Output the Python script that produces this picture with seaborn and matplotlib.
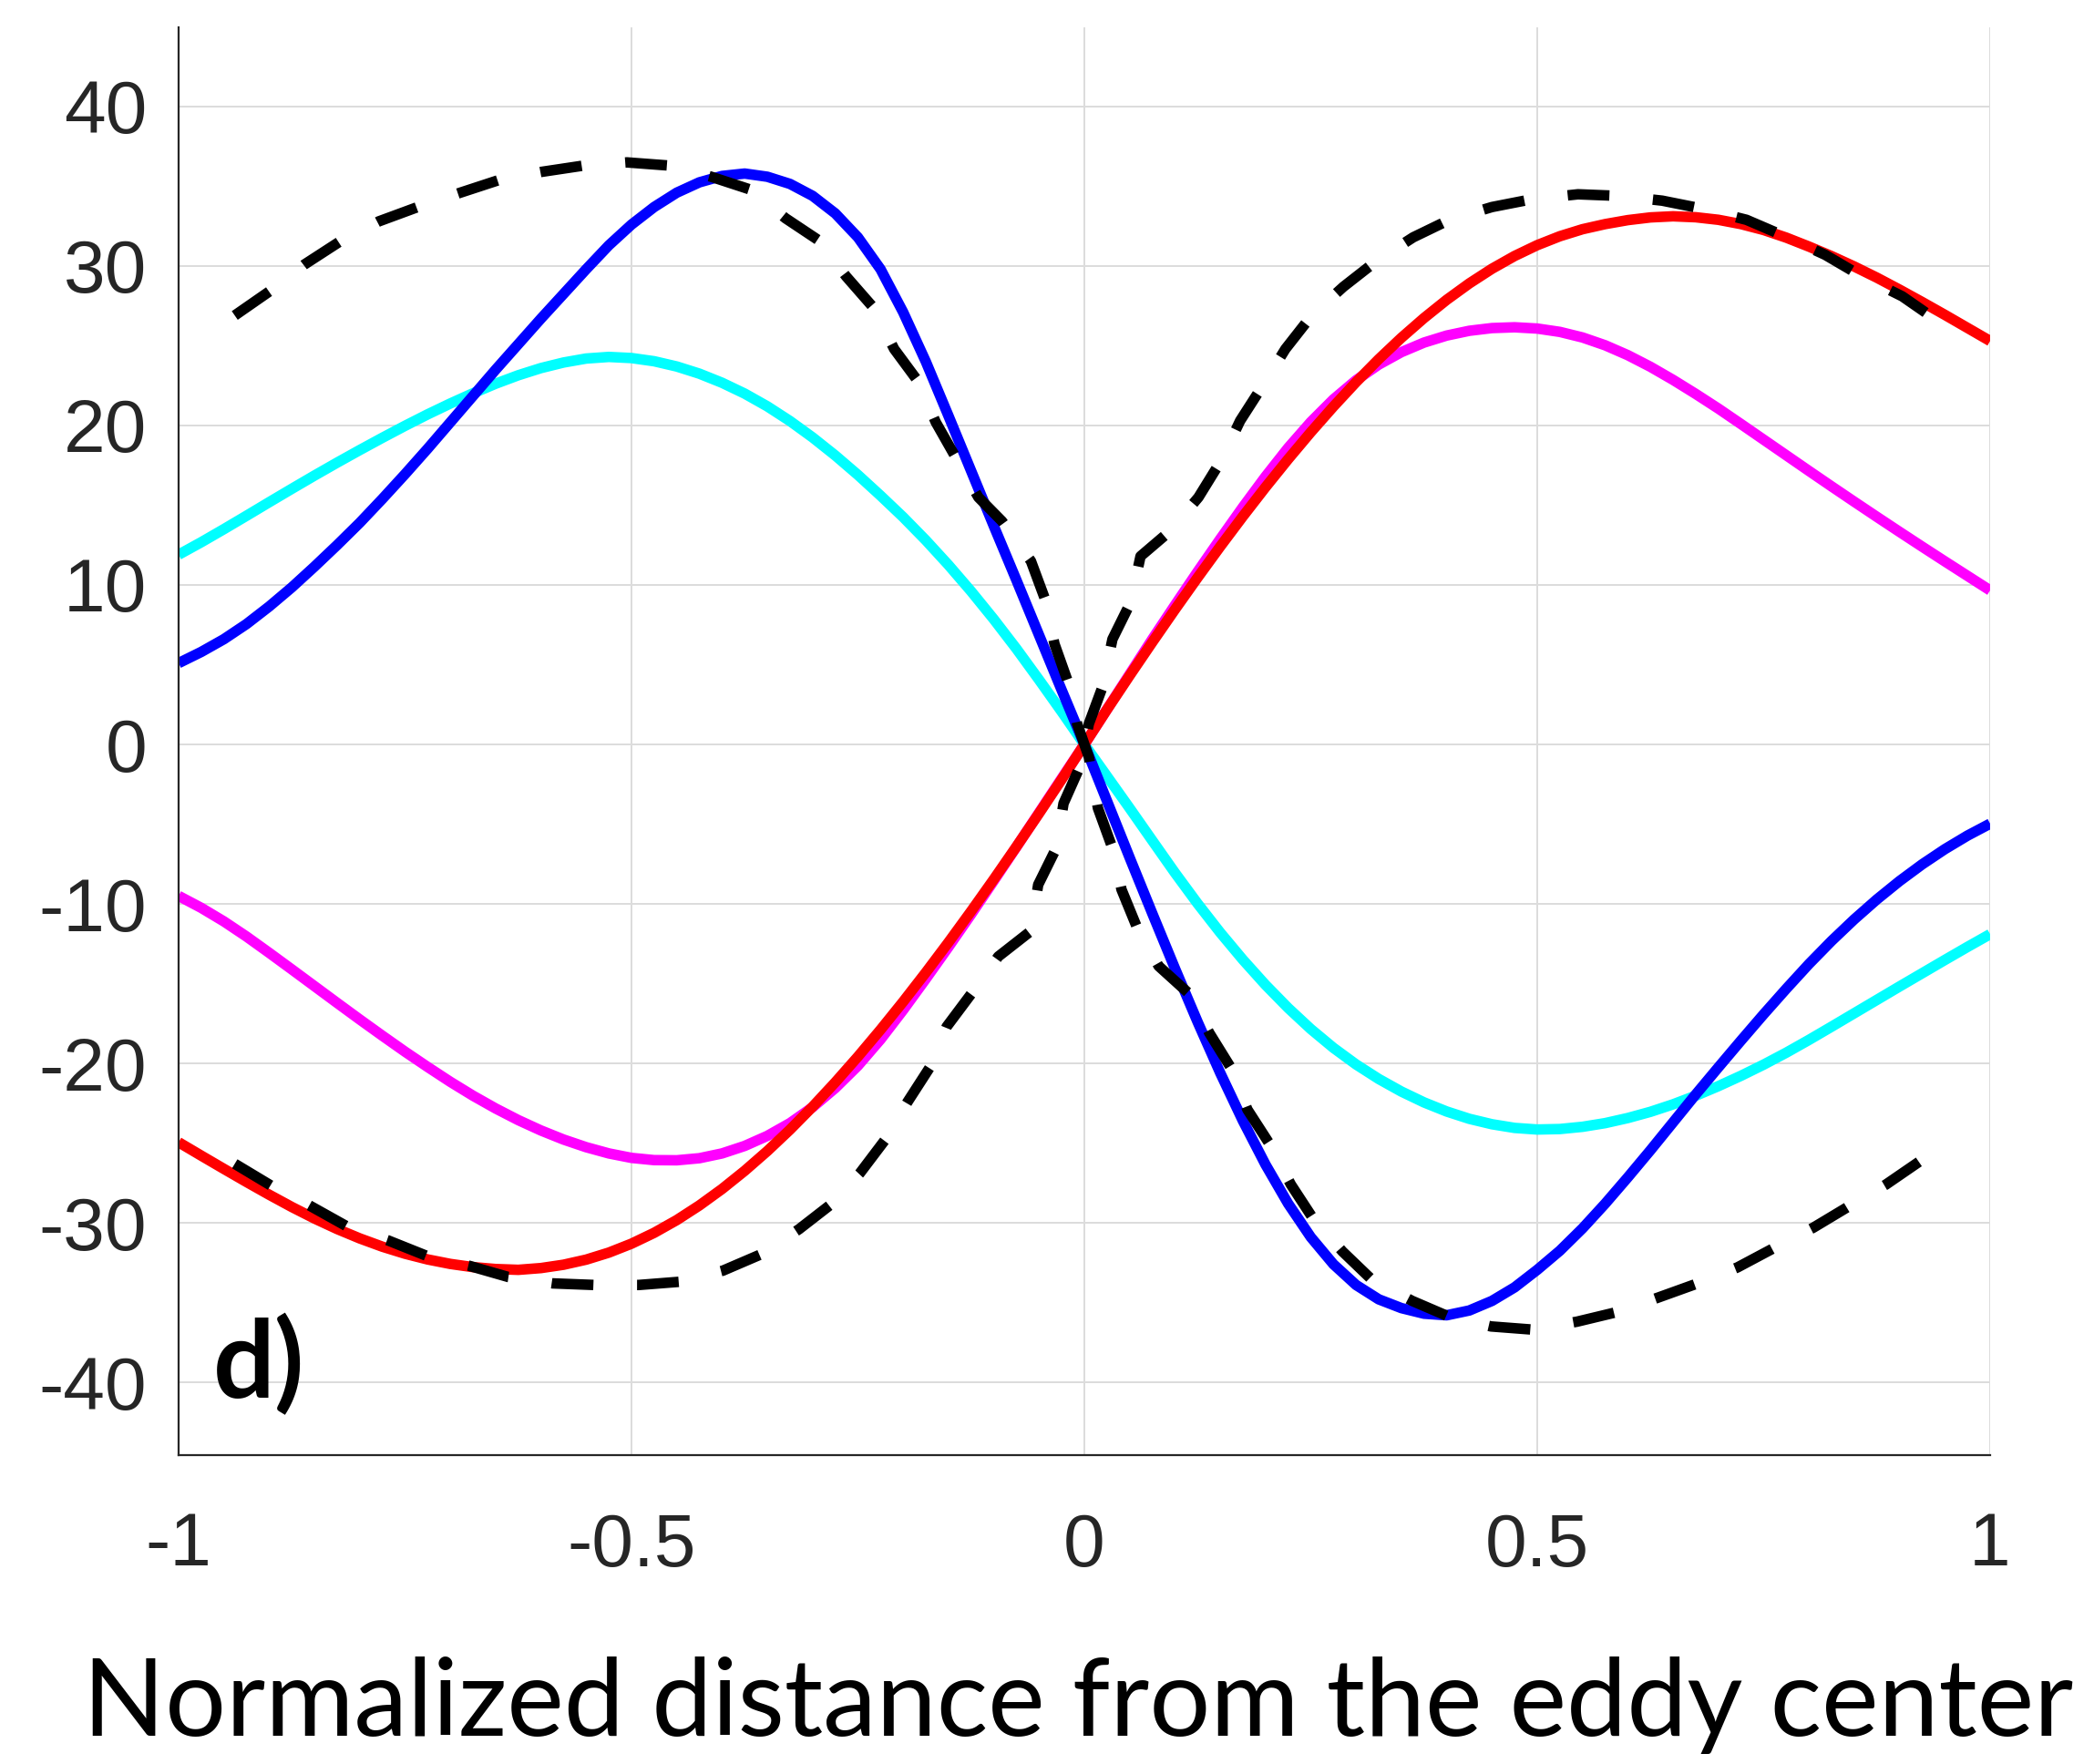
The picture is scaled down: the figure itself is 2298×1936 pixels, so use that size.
import matplotlib
matplotlib.use("Agg")
import matplotlib.pyplot as plt
import pandas as pd
import seaborn as sns

# ---- modelled profiles across the eddy (normalized distance from the centre) ----
x_grid = [-1.000, -0.975, -0.950, -0.925, -0.900, -0.875, -0.850, -0.825, -0.800, -0.775,
          -0.750, -0.725, -0.700, -0.675, -0.650, -0.625, -0.600, -0.575, -0.550, -0.525,
          -0.500, -0.475, -0.450, -0.425, -0.400, -0.375, -0.350, -0.325, -0.300, -0.275,
          -0.250, -0.225, -0.200, -0.175, -0.150, -0.125, -0.100, -0.075, -0.050, -0.025,
          0.000, 0.025, 0.050, 0.075, 0.100, 0.125, 0.150, 0.175, 0.200, 0.225,
          0.250, 0.275, 0.300, 0.325, 0.350, 0.375, 0.400, 0.425, 0.450, 0.475,
          0.500, 0.525, 0.550, 0.575, 0.600, 0.625, 0.650, 0.675, 0.700, 0.725,
          0.750, 0.775, 0.800, 0.825, 0.850, 0.875, 0.900, 0.925, 0.950, 0.975, 1.000]

cyan_vals = [11.9, 12.68, 13.5, 14.34, 15.19, 16.03, 16.86, 17.67, 18.46, 19.23,
             19.98, 20.7, 21.38, 22.02, 22.62, 23.15, 23.6, 23.95, 24.2, 24.3,
             24.23, 24.03, 23.7, 23.25, 22.68, 22.0, 21.2, 20.28, 19.25, 18.12,
             16.9, 15.6, 14.25, 12.8, 11.25, 9.6, 7.85, 6.0, 4.05, 2.05,
             0.0, -2.0, -4.0, -6.03, -8.05, -9.98, -11.8, -13.5, -15.08, -16.53,
             -17.85, -19.03, -20.07, -20.98, -21.77, -22.45, -23.02, -23.48, -23.82, -24.05,
             -24.15, -24.12, -23.98, -23.75, -23.43, -23.04, -22.57, -22.03, -21.43, -20.78,
             -20.08, -19.33, -18.53, -17.7, -16.86, -16.02, -15.18, -14.35, -13.52, -12.7, -11.9]

blue_vals = [5.1, 5.8, 6.6, 7.55, 8.65, 9.85, 11.15, 12.5, 13.9, 15.4,
             16.95, 18.55, 20.2, 21.85, 23.5, 25.1, 26.7, 28.25, 29.8, 31.3,
             32.6, 33.7, 34.6, 35.25, 35.65, 35.8, 35.6, 35.15, 34.4, 33.3,
             31.8, 29.8, 27.1, 24.0, 20.6, 17.15, 13.7, 10.3, 6.85, 3.4,
             0.0, -3.55, -7.1, -10.6, -14.05, -17.4, -20.6, -23.6, -26.35, -28.8,
             -30.9, -32.6, -33.9, -34.8, -35.35, -35.7, -35.8, -35.5, -34.9, -34.05,
             -32.95, -31.75, -30.35, -28.8, -27.15, -25.45, -23.7, -21.95, -20.25, -18.57,
             -16.92, -15.32, -13.77, -12.32, -10.97, -9.72, -8.57, -7.52, -6.57, -5.72, -4.97]

magenta_vals = [-9.5, -10.25, -11.1, -12.05, -13.07, -14.11, -15.16, -16.21, -17.25, -18.27,
                -19.27, -20.23, -21.16, -22.03, -22.83, -23.56, -24.21, -24.78, -25.26, -25.65,
                -25.93, -26.07, -26.08, -25.95, -25.65, -25.18, -24.55, -23.75, -22.75, -21.55,
                -20.15, -18.5, -16.65, -14.7, -12.7, -10.65, -8.55, -6.43, -4.28, -2.13,
                0.0, 2.2, 4.4, 6.6, 8.73, 10.83, 12.88, 14.88, 16.8, 18.6,
                20.22, 21.64, 22.84, 23.82, 24.6, 25.2, 25.64, 25.94, 26.11, 26.16,
                26.08, 25.87, 25.52, 25.03, 24.41, 23.68, 22.86, 21.98, 21.06, 20.09,
                19.11, 18.13, 17.15, 16.18, 15.22, 14.27, 13.33, 12.4, 11.48, 10.57, 9.66]

red_vals = [-24.95, -25.79, -26.62, -27.44, -28.24, -29.01, -29.73, -30.39, -30.98, -31.5,
            -31.94, -32.3, -32.58, -32.78, -32.9, -32.95, -32.84, -32.63, -32.31, -31.87,
            -31.31, -30.63, -29.83, -28.91, -27.88, -26.74, -25.5, -24.16, -22.72, -21.19,
            -19.58, -17.89, -16.13, -14.3, -12.41, -10.46, -8.46, -6.41, -4.32, -2.19,
            0.0, 2.19, 4.32, 6.41, 8.46, 10.46, 12.41, 14.3, 16.13, 17.89,
            19.58, 21.19, 22.72, 24.16, 25.5, 26.74, 27.88, 28.91, 29.83, 30.63,
            31.31, 31.87, 32.31, 32.63, 32.88, 33.05, 33.12, 33.06, 32.9, 32.63,
            32.26, 31.78, 31.22, 30.62, 29.97, 29.27, 28.52, 27.74, 26.94, 26.12, 25.3]

# observed profile 1 (positive on the left, negative on the right)
obs1_x = [-0.938, -0.900, -0.861, -0.823, -0.779, -0.736, -0.689, -0.646, -0.600, -0.553,
          -0.505, -0.458, -0.412, -0.369, -0.330, -0.293, -0.263, -0.233, -0.210, -0.184,
          -0.164, -0.141, -0.117, -0.091, -0.059, -0.044, -0.033, -0.018, -0.008, 0.005,
          0.015, 0.031, 0.041, 0.059, 0.082, 0.115, 0.138, 0.162, 0.180, 0.205,
          0.228, 0.251, 0.285, 0.318, 0.362, 0.403, 0.449, 0.495, 0.544, 0.588,
          0.633, 0.677, 0.721, 0.764, 0.805, 0.846, 0.885, 0.926]
obs1_y = [26.9, 28.4, 30.1, 31.5, 32.8, 33.7, 34.6, 35.4, 35.9, 36.3,
          36.5, 36.3, 35.6, 34.8, 33.0, 31.6, 29.35, 27.4, 24.8, 22.8,
          20.2, 17.9, 15.5, 14.0, 11.5, 9.2, 6.3, 3.9, 1.3, -0.8,
          -4.0, -6.5, -9.1, -11.6, -13.9, -15.6, -18.1, -20.3, -22.9, -25.1,
          -27.6, -29.6, -31.8, -33.6, -34.9, -35.9, -36.5, -36.7, -36.2, -35.6,
          -34.7, -33.8, -32.8, -31.5, -30.3, -28.9, -27.6, -26.0]

# observed profile 2 (negative on the left, positive on the right)
obs2_x = [-0.938, -0.897, -0.856, -0.815, -0.769, -0.725, -0.679, -0.636, -0.587, -0.541,
          -0.492, -0.447, -0.399, -0.358, -0.315, -0.281, -0.248, -0.220, -0.195, -0.170,
          -0.152, -0.123, -0.095, -0.059, -0.051, -0.031, -0.023, -0.005, 0.005, 0.020,
          0.031, 0.051, 0.062, 0.095, 0.126, 0.151, 0.172, 0.198, 0.222, 0.251,
          0.286, 0.322, 0.363, 0.403, 0.450, 0.495, 0.545, 0.590, 0.638, 0.682,
          0.731, 0.772, 0.818, 0.857, 0.903, 0.936]
obs2_y = [-26.3, -27.7, -28.9, -30.2, -31.1, -32.1, -32.7, -33.4, -33.8, -33.9,
          -33.9, -33.7, -33.0, -32.0, -30.4, -28.9, -26.9, -24.8, -22.4, -20.2,
          -17.7, -15.5, -13.3, -11.7, -8.8, -6.5, -3.7, -1.4, 1.3, 3.6,
          6.6, 8.9, 11.8, 13.4, 15.5, 17.8, 20.3, 22.6, 24.8, 26.9,
          28.7, 30.3, 31.8, 32.9, 33.7, 34.2, 34.5, 34.4, 34.1, 33.6,
          32.9, 31.9, 30.7, 29.4, 28.1, 26.8]

x_ticks = [-1, -0.5, 0, 0.5, 1]
x_ticklabels = ["-1", "-0.5", "0", "0.5", "1"]
y_ticks = [-40, -30, -20, -10, 0, 10, 20, 30, 40]
y_ticklabels = ["-40", "-30", "-20", "-10", "0", "10", "20", "30", "40"]
x_label = "Normalized distance from the eddy center"
panel_tag = "d)"

# ---- style ----
sns.set_style("white")
plt.rcParams["font.family"] = ["Liberation Sans", "DejaVu Sans"]
plt.rcParams["axes.unicode_minus"] = False

axis_gray = "#262626"
W, H = 2298, 1936
fig = plt.figure(figsize=(W / 100, H / 100), dpi=100)
ax = fig.add_axes([196 / W, 339 / H, 1988 / W, 1567 / H])

lw = 8.3
solid = [(cyan_vals, "#00ffff"), (blue_vals, "#0000ff"),
         (magenta_vals, "#ff00ff"), (red_vals, "#ff0000")]
for vals, col in solid:
    df = pd.DataFrame({"x": x_grid, "y": vals})
    sns.lineplot(data=df, x="x", y="y", color=col, linewidth=lw,
                 estimator=None, sort=False, ax=ax,
                 solid_capstyle="butt", solid_joinstyle="round")

dash = (0, (33.0 / lw, 34.5 / lw))
for ox, oy in [(obs1_x, obs1_y), (obs2_x, obs2_y)]:
    df = pd.DataFrame({"x": ox, "y": oy})
    sns.lineplot(data=df, x="x", y="y", color="black", linewidth=lw,
                 linestyle=dash, estimator=None, sort=False, ax=ax)

ax.set_xlim(-1, 1)
ax.set_ylim(-44.57, 44.97)
ax.set_xlabel("")
ax.set_ylabel("")
ax.set_xticks(x_ticks)
ax.set_xticklabels(x_ticklabels)
ax.set_yticks(y_ticks)
ax.set_yticklabels(y_ticklabels)

ax.grid(True, color="#dcdcdc", linewidth=1.4)
ax.set_axisbelow(True)
for side in ("top", "right"):
    ax.spines[side].set_visible(False)
for side in ("left", "bottom"):
    ax.spines[side].set_color(axis_gray)
    ax.spines[side].set_linewidth(1.6)

ax.tick_params(axis="both", direction="in", length=12, width=1.6,
               color=axis_gray, labelcolor=axis_gray, labelsize=59)
ax.tick_params(axis="x", pad=45)
ax.tick_params(axis="y", pad=25)

ax.text(-0.962, -41.0, panel_tag, family=["Lato", "DejaVu Sans"], weight="bold",
        fontsize=86, ha="left", va="baseline", color="black")

# x-axis title, sized so it spans the full text line under the axes
lbl = fig.text(1183 / W, 31 / H, x_label, family=["Lato", "DejaVu Sans"],
               fontsize=80, ha="center", va="baseline", color="black")
renderer = fig.canvas.get_renderer()
width_px = lbl.get_window_extent(renderer).width
lbl.set_fontsize(80 * 2184 / width_px)

fig.savefig("out.png", dpi=100, facecolor="white")
